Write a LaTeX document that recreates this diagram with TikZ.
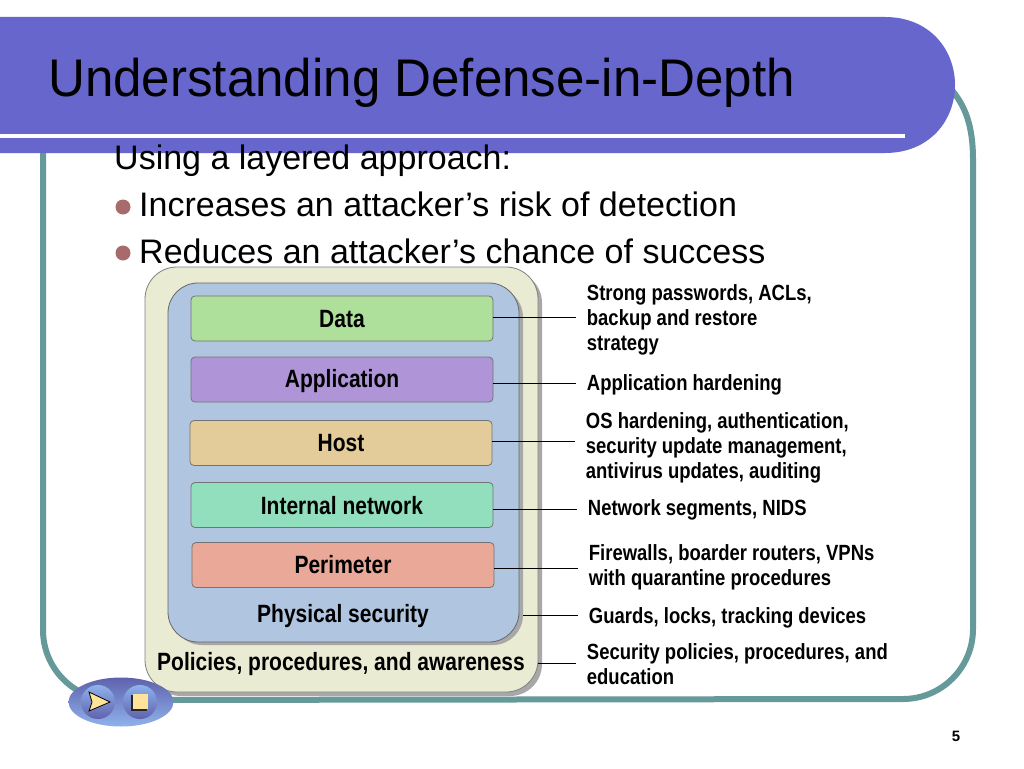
\documentclass[tikz,border=0pt]{standalone}
\usepackage{fontspec}
\setmainfont{Liberation Sans}
\usetikzlibrary{shapes.geometric}
\definecolor{banner}{HTML}{6666CC}
\definecolor{frame}{HTML}{669999}
\definecolor{dot}{HTML}{A86B6B}
\definecolor{outerfill}{HTML}{E9EBD2}
\definecolor{innerfill}{HTML}{B0C6E0}
\definecolor{shadowgray}{HTML}{A8A8A8}
\definecolor{navdark}{HTML}{5F62AC}
\definecolor{navlight}{HTML}{8FB2EC}
\definecolor{btnfill}{HTML}{FFE39A}
\begin{document}
\begin{tikzpicture}[
    x = 1pt, y = -1pt,
    layer/.style = {draw = black!55, line width = .8pt, rounded corners = 4pt, minimum width = 302pt, minimum height = 45pt, inner sep = 0pt},
    ltxt/.style = {font = \fontsize{25}{28}\selectfont\bfseries, xscale = .84, transform shape},
    note/.style = {font = \fontsize{22}{25}\selectfont\bfseries, xscale = .84, transform shape, align = left, anchor = west, inner ysep = 0pt, inner xsep = 0pt, outer xsep = 13pt},
    body/.style = {font = \fontsize{34}{38}\selectfont, anchor = west, inner sep = 0pt},
    conn/.style = {draw = black, line width = 1pt},
    bull/.style = {circle, fill = dot, minimum size = 15pt, inner sep = 0pt},
    navbtn/.style = {circle, minimum size = 34pt, inner sep = 0pt, top color = navlight, bottom color = navdark}
  ]
  \useasboundingbox[fill = white] (0,0) rectangle (1024,768);

  % frame and banner
  \draw[frame, line width = 6pt] (43,150) -- (43,630) arc[start angle = 180, end angle = 90, x radius = 70pt, y radius = -70pt] -- (903,699) arc[start angle = 90, end angle = 0, x radius = 70pt, y radius = -70pt] -- (973,160) .. controls (973,125) and (965,105) .. (950,88);
  \fill[banner] (0,17) -- (885,17) .. controls (930,17) and (955,50) .. (955,85) .. controls (955,120) and (930,153) .. (885,153) -- (0,153) -- cycle;
  \fill[white] (0,134) rectangle (905,138);
  \node[anchor = west, inner sep = 0pt, xscale = .964, transform shape, font = \fontsize{53}{60}\selectfont] (title) at (48,83) {Understanding Defense-in-Depth};

  \node[body] (intro) at (114,161) {Using a layered approach:};
  \node[bull] (dota) at (123,207) {};
  \node[body] (risk) at (139,204) {Increases an attacker’s risk of detection};
  \node[bull] (dotb) at (123,253) {};
  \node[body] (chance) at (139,251) {Reduces an attacker’s chance of success};

  % nested layers
  \fill[shadowgray, rounded corners = 32pt] (149,271) rectangle (542,696);
  \draw[draw = black!50, fill = outerfill, line width = .8pt, rounded corners = 32pt] (145,267) rectangle (538,692);
  \fill[shadowgray, rounded corners = 30pt] (172,287) rectangle (523,645);
  \draw[draw = black!60, fill = innerfill, line width = .8pt, rounded corners = 30pt] (168,283) rectangle (519,642);

  \node[layer, fill = {rgb,255:red,174;green,224;blue,155}] (data) at (342,318.5) {};
  \node[layer, fill = {rgb,255:red,176;green,148;blue,216}] (app) at (342,379.5) {};
  \node[layer, fill = {rgb,255:red,227;green,204;blue,153}] (host) at (341,443) {};
  \node[layer, fill = {rgb,255:red,146;green,223;blue,190}] (inet) at (342,505) {};
  \node[layer, fill = {rgb,255:red,233;green,168;blue,152}] (perim) at (343,565) {};

  \node[ltxt] (datat) at (342,319) {Data};
  \node[ltxt] (appt) at (342,381) {Application};
  \node[ltxt] (hostt) at (341,443) {Host};
  \node[ltxt] (inett) at (342,506) {Internal network};
  \node[ltxt] (perimt) at (343,565) {Perimeter};
  \node[ltxt] (phys) at (343,616) {Physical security};
  \node[ltxt] (pol) at (341,664) {Policies, procedures, and awareness};

  % notes
  \node[note] (ndata) at (576,320) {Strong passwords, ACLs,\\backup and restore\\strategy};
  \node[note] (napp) at (576,385) {Application hardening};
  \node[note] (nhost) at (575,448) {OS hardening, authentication,\\security update management,\\antivirus updates, auditing};
  \node[note] (ninet) at (577,510) {Network segments, NIDS};
  \node[note] (nperim) at (578,567) {Firewalls, boarder routers, VPNs\\with quarantine procedures};
  \node[note] (nphys) at (578,618) {Guards, locks, tracking devices};
  \node[note] (npol) at (576,664) {Security policies, procedures, and\\education};
  \coordinate (cphys) at (523,615);
  \coordinate (cpol) at (538,663);

  \draw[conn] ([yshift = 1.5pt]data.east) -- ([yshift = 1.5pt]data.east -| ndata.west);
  \draw[conn] ([yshift = -3.5pt]app.east) -- ([yshift = -3.5pt]app.east -| napp.west);
  \draw[conn] ([yshift = 2pt]host.east) -- ([yshift = 2pt]host.east -| nhost.west);
  \draw[conn] ([yshift = -4pt]inet.east) -- ([yshift = -4pt]inet.east -| ninet.west);
  \draw[conn] ([yshift = -3pt]perim.east) -- ([yshift = -3pt]perim.east -| nperim.west);
  \draw[conn] (cphys) -- (cphys -| nphys.west);
  \draw[conn] (cpol) -- (cpol -| npol.west);

  % nav buttons
  \node[ellipse, minimum width = 105pt, minimum height = 49pt, inner sep = 0pt, top color = navdark, bottom color = navlight] (nav) at (121,702) {};
  \node[navbtn] (btna) at (98,702) {};
  \node[navbtn] (btnb) at (140,702) {};
  \draw[black, line width = .8pt, fill = btnfill] (89,692) -- (110,702) -- (89,711) -- (92,702) -- cycle;
  \fill[black!85] (131,695) rectangle (147,711);
  \fill[btnfill] (133,694) rectangle (148,709);

  \node[inner sep = 0pt, font = \fontsize{15}{18}\selectfont\bfseries] (pagenum) at (956,736) {5};
\end{tikzpicture}
\end{document}
